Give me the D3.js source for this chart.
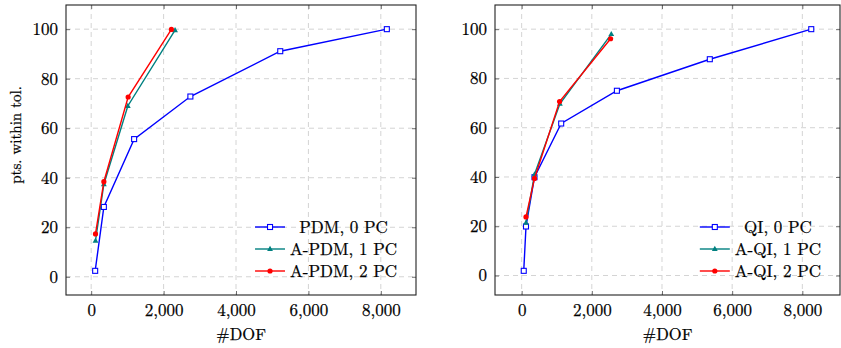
<!DOCTYPE html>
<html>
<head>
<meta charset="utf-8">
<script src="https://cdn.jsdelivr.net/npm/d3@7"></script>
<style>
  html, body { margin: 0; padding: 0; background: #fff; }
</style>
</head>
<body>
<svg id="chart" width="841" height="348"></svg>
<script>
// data
const pdmDof  = [110, 350, 1186, 2740, 5222, 8166];
const pdmPts  = [2.4, 28.2, 55.6, 72.8, 91.1, 100];
const apdm1Dof = [119, 350, 1012, 2317];
const apdm1Pts = [14.6, 37.4, 69.0, 99.6];
const apdm2Dof = [119, 350, 1021, 2216];
const apdm2Pts = [17.3, 38.4, 72.6, 99.9];

const qiDof  = [60, 124, 366, 1127, 2715, 5363, 8254];
const qiPts  = [1.9, 19.9, 39.9, 61.7, 75.0, 87.8, 100];
const aqi1Dof = [124, 366, 1090, 2555];
const aqi1Pts = [21.4, 41.0, 69.7, 98.0];
const aqi2Dof = [124, 366, 1081, 2535];
const aqi2Pts = [23.8, 39.4, 70.6, 96.1];

const leftNames  = ["PDM, 0 PC", "A-PDM, 1 PC", "A-PDM, 2 PC"];
const rightNames = ["QI, 0 PC", "A-QI, 1 PC", "A-QI, 2 PC"];
const xTicks = [0, 2000, 4000, 6000, 8000];
const yTicks = [0, 20, 40, 60, 80, 100];
const xLabel = "#DOF";
const yLabel = "pts. within tol.";

const colors  = ["#0000ff", "#008080", "#ff0000"];
const markers = ["square", "triangle", "circle"];
const FONT = "Latin Modern Roman";

const zip = (xs, ys) => xs.map((x, i) => ({x: x, y: ys[i]}));

const panels = [
  { left: 66,  right: 416, names: leftNames, yLab: true,
    series: [zip(pdmDof, pdmPts), zip(apdm1Dof, apdm1Pts), zip(apdm2Dof, apdm2Pts)] },
  { left: 495, right: 840, names: rightNames, yLab: false,
    series: [zip(qiDof, qiPts), zip(aqi1Dof, aqi1Pts), zip(aqi2Dof, aqi2Pts)] }
];
const plotTop = 5, plotBottom = 295;

const svg = d3.select("#chart");

// pgfplots style 10% enlargement
function padded(vals) {
  let [lo, hi] = d3.extent(vals);
  let p = (hi - lo) * 0.1;
  return [lo - p, hi + p];
}

function drawMarker(g, kind, color, x, y) {
  if (kind == "square") {
    g.append("rect").attr("x", x - 2.5).attr("y", y - 2.5).attr("width", 5).attr("height", 5)
      .attr("fill", "#fff").attr("stroke", color).attr("stroke-width", 1.1);
  } else if (kind == "triangle") {
    g.append("path").attr("d", `M${x},${y - 3.2}L${x + 2.9},${y + 2}L${x - 2.9},${y + 2}Z`)
      .attr("fill", color);
  } else {
    g.append("circle").attr("cx", x).attr("cy", y).attr("r", 2.6).attr("fill", color);
  }
}

panels.forEach(p => {
  const all = p.series.flat();
  const x = d3.scaleLinear().domain(padded(all.map(d => d.x))).range([p.left, p.right]);
  const y = d3.scaleLinear().domain(padded(all.map(d => d.y))).range([plotBottom, plotTop]);
  const g = svg.append("g");

  // grid
  g.selectAll(".gx").data(xTicks).enter().append("line")
    .attr("x1", d => x(d)).attr("x2", d => x(d)).attr("y1", plotTop).attr("y2", plotBottom)
    .attr("stroke", "#d4d4d4").attr("stroke-width", 1).attr("stroke-dasharray", "5,4");
  g.selectAll(".gy").data(yTicks).enter().append("line")
    .attr("y1", d => y(d)).attr("y2", d => y(d)).attr("x1", p.left).attr("x2", p.right)
    .attr("stroke", "#d4d4d4").attr("stroke-width", 1).attr("stroke-dasharray", "5,4");

  // axes (ticks inside on all four sides)
  const tk = 4;
  const ax = g.append("g").attr("transform", `translate(0,${plotBottom})`)
    .call(d3.axisBottom(x).tickValues(xTicks).tickSize(-tk).tickPadding(9).tickFormat(d3.format(",")));
  const axTop = g.append("g").attr("transform", `translate(0,${plotTop})`)
    .call(d3.axisTop(x).tickValues(xTicks).tickSize(-tk).tickFormat(""));
  const ay = g.append("g").attr("transform", `translate(${p.left},0)`)
    .call(d3.axisLeft(y).tickValues(yTicks).tickSize(-tk).tickPadding(8));
  const ayR = g.append("g").attr("transform", `translate(${p.right},0)`)
    .call(d3.axisRight(y).tickValues(yTicks).tickSize(-tk).tickFormat(""));
  [ax, axTop, ay, ayR].forEach(a => {
    a.attr("font-family", FONT).attr("font-size", 17);
    a.select(".domain").remove();
    a.selectAll(".tick line").attr("stroke", "#6e6e6e").attr("stroke-width", 1);
    a.selectAll("text").attr("fill", "#000").attr("stroke", "#000").attr("stroke-width", 0.25);
  });

  // frame
  g.append("rect").attr("x", p.left).attr("y", plotTop)
    .attr("width", p.right - p.left).attr("height", plotBottom - plotTop)
    .attr("fill", "none").attr("stroke", "#222").attr("stroke-width", 1.1);

  // series
  const line = d3.line().x(d => x(d.x)).y(d => y(d.y));
  p.series.forEach((s, i) => {
    g.append("path").datum(s).attr("d", line)
      .attr("fill", "none").attr("stroke", colors[i]).attr("stroke-width", 1.4);
    s.forEach(d => drawMarker(g, markers[i], colors[i], x(d.x), y(d.y)));
  });

  // legend
  const lg = g.append("g");
  const texts = p.names.map((n, i) => lg.append("text")
    .attr("y", 227 + i * 22).attr("dy", "0.35em")
    .attr("text-anchor", "middle")
    .attr("font-family", FONT).attr("font-size", 17)
    .attr("stroke", "#000").attr("stroke-width", 0.25)
    .text(n));
  const maxW = d3.max(texts, t => t.node().getComputedTextLength());
  const cx = p.right - 19 - maxW / 2;
  const lineEnd = cx - maxW / 2 - 5;
  texts.forEach(t => t.attr("x", cx));
  p.names.forEach((n, i) => {
    const yy = 227 + i * 22;
    lg.append("line").attr("x1", lineEnd - 30).attr("x2", lineEnd).attr("y1", yy).attr("y2", yy)
      .attr("stroke", colors[i]).attr("stroke-width", 1.4);
    drawMarker(lg, markers[i], colors[i], lineEnd - 15, yy);
  });

  // labels
  g.append("text").attr("x", (p.left + p.right) / 2).attr("y", 340)
    .attr("text-anchor", "middle").attr("font-family", FONT).attr("font-size", 16.5)
    .attr("stroke", "#000").attr("stroke-width", 0.25)
    .text(xLabel);
  if (p.yLab) {
    g.append("text").attr("transform", "translate(21,135) rotate(-90)")
      .attr("text-anchor", "middle").attr("font-family", FONT).attr("font-size", 15)
      .attr("stroke", "#000").attr("stroke-width", 0.25)
      .text(yLabel);
  }
});
</script>
</body>
</html>
